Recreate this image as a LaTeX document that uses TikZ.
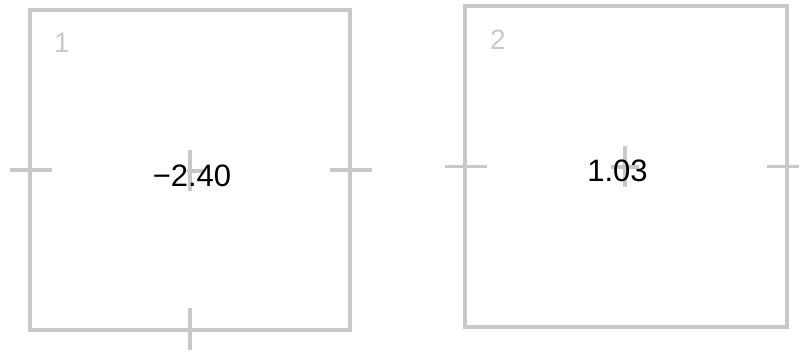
\documentclass[tikz,border=0pt]{standalone}
\usepackage{fontspec}
\setmainfont{Liberation Sans}
\definecolor{boxgray}{RGB}{200,200,200}
\begin{document}
\begin{tikzpicture}[x=1pt,y=-1pt,
  blockbox/.style={draw=boxgray,line width=3.3pt,minimum width=320pt,minimum height=320pt,inner sep=0pt,outer sep=0pt},
  tick/.style={draw=boxgray,line width=3.3pt},
  valtext/.style={font=\fontsize{31}{31}\selectfont,text=black,inner sep=0pt,anchor=base},
  idtext/.style={font=\fontsize{28}{28}\selectfont,text=boxgray,inner sep=0pt,anchor=base}]
\useasboundingbox (0,0) rectangle (799,352);
% block 1
\node[blockbox] (b1) at (190,170) {};
\coordinate (c1) at (190,171);
\draw[tick] ([xshift=-20pt]b1.west) -- ([xshift=22pt]b1.west);
\draw[tick] ([xshift=-20pt]b1.east) -- ([xshift=22pt]b1.east);
\draw[tick] ([yshift=-20pt]b1.south) -- ([yshift=22pt]b1.south);
\draw[tick] ([yshift=-20pt]c1) -- ([yshift=21pt]c1);
\draw[tick] ([xshift=-3pt]c1) -- ([xshift=14pt]c1);
\node[idtext] (l1) at (62,53) {1};
\node[valtext] (v1) at (192,187) {−2.40};
% block 2
\node[blockbox,minimum width=322pt,minimum height=321pt] (b2) at (626,166.5) {};
\coordinate (c2) at (625,167);
\draw[tick] ([xshift=-20pt]b2.west) -- ([xshift=22pt]b2.west);
\draw[tick] ([xshift=-20pt]b2.east) -- ([xshift=22pt]b2.east);
\draw[tick] ([yshift=-20pt]c2) -- ([yshift=21pt]c2);
\draw[tick] ([xshift=-14pt]c2) -- ([xshift=14pt]c2);
\node[idtext] (l2) at (498,50) {2};
\node[valtext] (v2) at (617.5,182) {1.03};
\end{tikzpicture}
\end{document}
